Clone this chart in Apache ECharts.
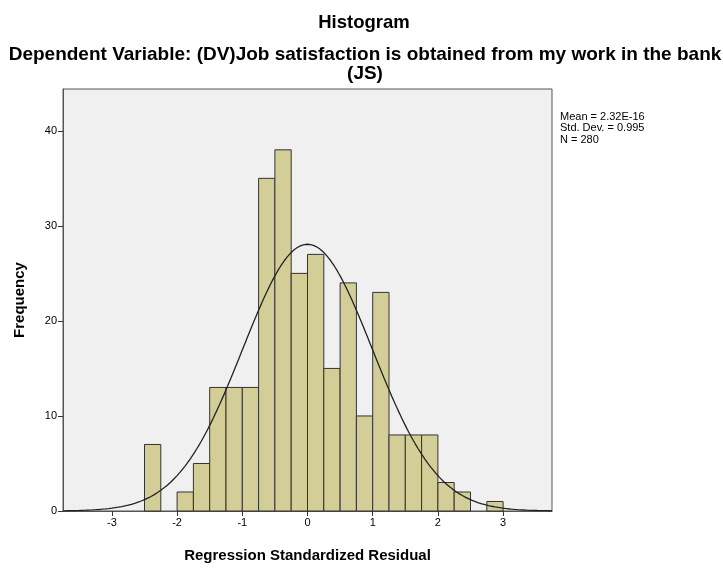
<!DOCTYPE html>
<html>
<head>
<meta charset="utf-8">
<script src="https://cdn.jsdelivr.net/npm/echarts@6/dist/echarts.min.js"></script>
<style>
  html, body { margin: 0; padding: 0; background: #ffffff; }
  #chart { width: 723px; height: 568px; }
</style>
</head>
<body>
<div id="chart"></div>
<script>
// Histogram bins: left edge of each bin (width 0.25) and the count in it
const binWidth = 0.25;
const binLefts = [-2.5, -2.25, -2.0, -1.75, -1.5, -1.25, -1.0, -0.75, -0.5, -0.25,
                  0.0, 0.25, 0.5, 0.75, 1.0, 1.25, 1.5, 1.75, 2.0, 2.25, 2.5, 2.75];
const counts   = [7, 0, 2, 5, 13, 13, 13, 35, 38, 25,
                  27, 15, 24, 10, 23, 8, 8, 8, 3, 2, 0, 1];

// Summary statistics shown in the legend box
const meanValue = 2.32e-16;
const stdDev = 0.995;
const nCases = 280;

// Axis tick labels
const xTicks = [-3, -2, -1, 0, 1, 2, 3];
const yTicks = [0, 10, 20, 30, 40];

// Normal curve scaled to counts per bin
const xMin = -3.75, xMax = 3.75;
const curve = [];
for (let i = 0; i <= 300; i++) {
  const x = xMin + (xMax - xMin) * i / 300;
  const z = (x - meanValue) / stdDev;
  const y = nCases * binWidth * Math.exp(-0.5 * z * z) / (stdDev * Math.sqrt(2 * Math.PI));
  curve.push([x, y]);
}

const barData = binLefts.map((l, i) => [l, l + binWidth, counts[i]]);

const font = 'Arial, "Liberation Sans", sans-serif';
const chart = echarts.init(document.getElementById('chart'));
chart.setOption({
  animation: false,
  backgroundColor: '#ffffff',
  title: [
    { text: 'Histogram', left: 359, textAlign: 'center', top: 8,
      textStyle: { fontFamily: font, fontSize: 18.5, fontWeight: 'bold', color: '#000' } },
    { text: 'Dependent Variable: (DV)Job satisfaction is obtained from my work in the bank\n(JS)',
      left: 360, textAlign: 'center', top: 40,
      textStyle: { fontFamily: font, fontSize: 19, fontWeight: 'bold', color: '#000', lineHeight: 19 } }
  ],
  grid: { left: 63, right: 171, top: 89, bottom: 56, show: true,
          backgroundColor: '#f0f0f0', borderColor: '#555', borderWidth: 1 },
  xAxis: {
    type: 'value', min: xMin, max: xMax,
    name: 'Regression Standardized Residual', nameLocation: 'middle', nameGap: 37,
    nameTextStyle: { fontFamily: font, fontSize: 15, fontWeight: 'bold', color: '#000' },
    axisLine: { show: true, onZero: false, lineStyle: { color: '#555' } },
    axisTick: { show: true, length: 5, customValues: xTicks, lineStyle: { color: '#333' } },
    axisLabel: { customValues: xTicks, fontFamily: font, fontSize: 11, color: '#000', margin: 6 },
    splitLine: { show: false }
  },
  yAxis: {
    type: 'value', min: 0, max: 44.4,
    name: 'Frequency', nameLocation: 'middle', nameGap: 36,
    nameTextStyle: { fontFamily: font, fontSize: 15, fontWeight: 'bold', color: '#000' },
    axisLine: { show: true, onZero: false, lineStyle: { color: '#555' } },
    axisTick: { show: true, length: 5, customValues: yTicks, lineStyle: { color: '#333' } },
    axisLabel: { customValues: yTicks, fontFamily: font, fontSize: 11, color: '#000', margin: 6 },
    splitLine: { show: false }
  },
  graphic: [
    { type: 'text', left: 560, top: 111,
      style: { text: 'Mean = 2.32E-16\nStd. Dev. = 0.995\nN = 280',
               font: '11px ' + font, fill: '#000', lineHeight: 11.5 } }
  ],
  series: [
    {
      type: 'custom',
      data: barData,
      renderItem: function (params, api) {
        const p0 = api.coord([api.value(0), 0]);
        const p1 = api.coord([api.value(1), api.value(2)]);
        if (api.value(2) <= 0) return null;
        return {
          type: 'rect',
          shape: { x: p0[0], y: p1[1], width: p1[0] - p0[0], height: p0[1] - p1[1] },
          style: { fill: '#d3ce97', stroke: '#333', lineWidth: 1 }
        };
      },
      encode: { x: [0, 1], y: 2 }
    },
    {
      type: 'line',
      data: curve,
      showSymbol: false,
      symbol: 'none',
      lineStyle: { color: '#222', width: 1.3 },
      z: 5
    }
  ]
});
</script>
</body>
</html>
